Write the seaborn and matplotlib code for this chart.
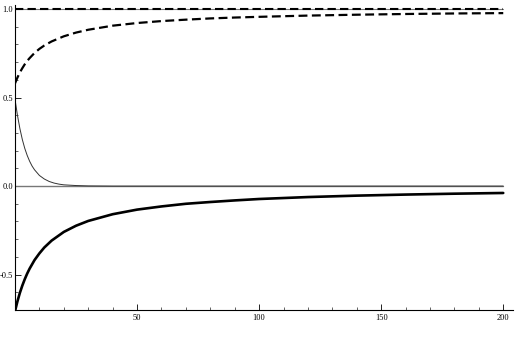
import numpy as np
import pandas as pd
import matplotlib
matplotlib.use("Agg")
import matplotlib.pyplot as plt
import seaborn as sns
from matplotlib.ticker import MultipleLocator, FixedLocator

# Values
x_hyp = [0, 1, 2, 3, 4, 5, 6, 8, 10, 12, 15, 20, 25, 30, 40, 50, 60, 70, 80, 90,
         100, 120, 140, 160, 180, 200]
lower_thick = [-0.707, -0.651, -0.603, -0.562, -0.526, -0.494, -0.466, -0.418, -0.380,
               -0.347, -0.308, -0.259, -0.224, -0.197, -0.159, -0.133, -0.115, -0.100,
               -0.090, -0.081, -0.073, -0.062, -0.054, -0.048, -0.043, -0.039]
upper_dashed = [0.580, 0.613, 0.642, 0.666, 0.688, 0.707, 0.723, 0.752, 0.775, 0.794,
                0.817, 0.846, 0.867, 0.883, 0.906, 0.921, 0.932, 0.940, 0.947, 0.952,
                0.956, 0.963, 0.968, 0.972, 0.975, 0.977]
x_decay = [0, 1, 2, 3, 4, 5, 6, 7, 8, 10, 12, 14, 16, 18, 20, 25, 30, 40, 60, 100, 200]
thin_decay = [0.490, 0.400, 0.325, 0.263, 0.213, 0.173, 0.140, 0.113, 0.092, 0.060,
              0.040, 0.026, 0.017, 0.011, 0.007, 0.003, 0.001, 0.0, 0.0, 0.0, 0.0]
x_const = [0, 200]
const_one = [1.0, 1.0]
const_zero = [0.0, 0.0]

xticks_major = [50, 100, 150, 200]
yticks_major = [-0.5, 0.0, 0.5, 1.0]
ytick_labels = ["-0.5", "0.0", "0.5", "1.0"]

sns.set_style("ticks")
plt.rcParams["font.family"] = ["Liberation Serif", "DejaVu Serif"]

fig = plt.figure(figsize=(5.21, 3.43), dpi=100)
ax = fig.add_axes([15 / 521, 33 / 343, 498 / 521, 304.5 / 343])

df_hyp = pd.DataFrame({"x": x_hyp, "low": lower_thick, "up": upper_dashed})
df_dec = pd.DataFrame({"x": x_decay, "y": thin_decay})
df_c = pd.DataFrame({"x": x_const, "one": const_one, "zero": const_zero})

sns.lineplot(data=df_c, x="x", y="zero", ax=ax, color="#777777", lw=1.0)
sns.lineplot(data=df_c, x="x", y="one", ax=ax, color="#777777", lw=0.8)
sns.lineplot(data=df_c, x="x", y="one", ax=ax, color="black", lw=1.5,
             linestyle=(0, (4, 2)))
sns.lineplot(data=df_dec, x="x", y="y", ax=ax, color="#333333", lw=0.7)
sns.lineplot(data=df_hyp, x="x", y="up", ax=ax, color="black", lw=1.6,
             linestyle=(0, (4, 2)))
sns.lineplot(data=df_hyp, x="x", y="low", ax=ax, color="black", lw=1.9)

ax.set_xlim(0, 204)
ax.set_ylim(-0.70, 1.02)
ax.set_xlabel("")
ax.set_ylabel("")
for s in ["top", "right"]:
    ax.spines[s].set_visible(False)
for s in ["left", "bottom"]:
    ax.spines[s].set_linewidth(0.8)
    ax.spines[s].set_color("black")

ax.xaxis.set_major_locator(FixedLocator(xticks_major))
ax.xaxis.set_minor_locator(MultipleLocator(10))
ax.yaxis.set_major_locator(FixedLocator(yticks_major))
ax.set_yticklabels(ytick_labels)
ax.yaxis.set_minor_locator(MultipleLocator(0.1))
ax.tick_params(which="major", direction="in", length=4, width=0.6,
               labelsize=6, pad=3, colors="black")
ax.tick_params(which="minor", direction="in", length=2, width=0.5)
ax.tick_params(axis="y", pad=1.5)

fig.savefig("out.png", dpi=100)
